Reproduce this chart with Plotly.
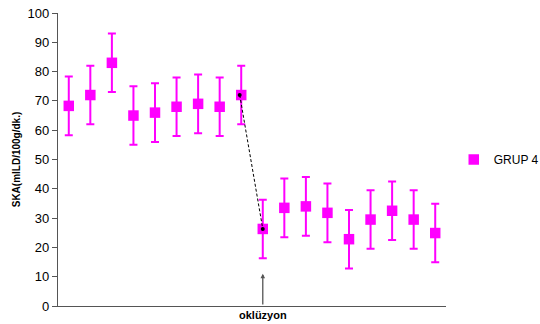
import plotly.graph_objects as go

x_pos = list(range(1, 19))
values = [68.3, 72, 83, 65, 66, 68, 69, 68, 72, 26.3, 33.5, 34, 31.8, 22.8, 29.5, 32.5, 29.5, 24.9]
errors = [10] * 18
y_ticks = list(range(0, 101, 10))
series_name = "GRUP 4"
occl_index = 10
occl_label = "oklüzyon"

FONT = "Liberation Sans, Arial, sans-serif"
MAG = "#FF00FF"

fig = go.Figure()
fig.add_trace(go.Scatter(
    x=x_pos, y=values, mode="markers", name=series_name,
    marker=dict(symbol="square", size=10.5, color=MAG),
    error_y=dict(type="data", array=errors, visible=True, color=MAG, thickness=2, width=4),
))

# dashed connector between last pre-occlusion point and first post-occlusion point
i0, i1 = occl_index - 2, occl_index - 1
fig.add_trace(go.Scatter(
    x=[x_pos[i0] - 0.07, x_pos[i1]], y=[values[i0], values[i1]],
    mode="lines+markers", showlegend=False, hoverinfo="skip",
    line=dict(color="black", width=1, dash="3px,2px"),
    marker=dict(color="black", size=4),
))

fig.add_annotation(
    x=occl_index, y=11, ax=occl_index, ay=0, xref="x", yref="y", axref="x", ayref="y",
    showarrow=True, arrowhead=2, arrowsize=0.7, arrowwidth=1.3, arrowcolor="#555555", text="",
)
fig.add_annotation(
    x=occl_index, y=0, xref="x", yref="paper", yanchor="top", yshift=-1,
    text="<b>" + occl_label + "</b>", showarrow=False, font=dict(family=FONT, size=11, color="black"),
)

fig.update_layout(
    width=540, height=324,
    margin=dict(l=58, r=94, t=13, b=18, autoexpand=False),
    paper_bgcolor="white", plot_bgcolor="white",
    font=dict(family=FONT, color="black"),
    showlegend=True,
    legend=dict(x=1.02, y=0.5, xanchor="left", yanchor="middle",
                font=dict(family=FONT, size=12, color="black")),
    xaxis=dict(range=[0.5, 18.5], showticklabels=False, ticks="", showgrid=False, automargin=False,
               zeroline=False, showline=True, linecolor="#555555", linewidth=1.3),
    yaxis=dict(range=[0, 100], tickvals=y_ticks, ticks="outside", ticklen=5, tickcolor="#555555",
               showgrid=False, zeroline=False, showline=True, linecolor="#555555", linewidth=1.3,
               automargin=False,
               tickfont=dict(family=FONT, size=13, color="black"),
               title=dict(text="<b>SKA(mlLD/100g/dk.)</b>", font=dict(family=FONT, size=10, color="black"),
                          standoff=5)),
)

fig.write_html("out.html", config={"displayModeBar": False},
               post_script="document.body.style.margin='0';")
